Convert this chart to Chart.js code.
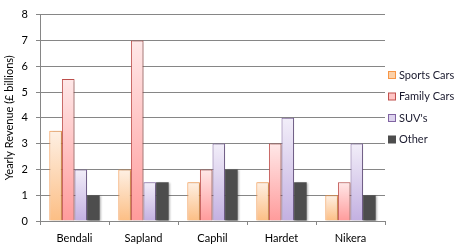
<!DOCTYPE html>
<html><head><meta charset="utf-8">
<script src="https://cdn.jsdelivr.net/npm/chart.js@4/dist/chart.umd.min.js"></script>
<style>html,body{margin:0;padding:0;background:#fff}#wrap{width:459px;height:249px}</style>
</head><body><div id="wrap"><canvas id="c" width="459" height="249"></canvas></div>
<script>
const categories = ["Bendali", "Sapland", "Caphil", "Hardet", "Nikera"];
const sportsCars = [3.5, 2, 1.5, 1.5, 1];
const familyCars = [5.5, 7, 2, 3, 1.5];
const suvs = [2, 1.5, 3, 4, 3];
const other = [1, 1.5, 2, 1.5, 1];
const seriesNames = ["Sports Cars", "Family Cars", "SUV's", "Other"];
const yTicks = [0, 1, 2, 3, 4, 5, 6, 7, 8];

const FONT = "Lato";
function grad(top, bottom) {
  return function(ctx) {
    const chart = ctx.chart;
    if (!chart.chartArea || ctx.type !== 'data') return bottom;
    const y = chart.scales.y;
    const v = ctx.parsed ? ctx.parsed.y : ctx.raw;
    const y0 = y.getPixelForValue(v), y1 = y.getPixelForValue(0);
    if (!isFinite(y0) || !isFinite(y1) || y0 === y1) return bottom;
    const g = chart.ctx.createLinearGradient(0, y0, 0, y1);
    g.addColorStop(0, top); g.addColorStop(1, bottom);
    return g;
  };
}
const legendSwatch = [
  {fill: "#fbd0a8", stroke: "#f79646"},
  {fill: "#ffc4c4", stroke: "#c0504d"},
  {fill: "#ddd3ee", stroke: "#8064a2"},
  {fill: "#4d4d4d", stroke: "#4d4d4d"}
];
const shadowPlugin = {
  id: 'shadow',
  beforeDatasetsDraw(chart) { const c = chart.ctx; c.save(); c.shadowColor = 'rgba(0,0,0,0.28)'; c.shadowBlur = 2; c.shadowOffsetX = 1.5; c.shadowOffsetY = 0.5; },
  afterDatasetsDraw(chart) { chart.ctx.restore(); }
};
const legendPlugin = {
  id: 'customLegend',
  afterDraw(chart) {
    const c = chart.ctx; c.save();
    const x = 388, ys = [75, 96.5, 118, 139.5];
    c.font = "11px " + FONT; c.textBaseline = 'middle'; c.textAlign = 'left';
    seriesNames.forEach((n, i) => {
      const s = legendSwatch[i];
      c.fillStyle = s.fill; c.fillRect(x + 0.5, ys[i] - 3.5, 7, 7);
      c.strokeStyle = s.stroke; c.lineWidth = 1; c.strokeRect(x + 0.5, ys[i] - 3.5, 7, 7);
      c.fillStyle = "#1a1a2e"; c.fillText(n, x + 11, ys[i]);
    });
    c.restore();
  }
};
new Chart(document.getElementById('c'), {
  type: 'bar',
  data: {
    labels: categories,
    datasets: [
      {label: seriesNames[0], data: sportsCars, backgroundColor: grad("#fef0e4", "#fcbe84"), borderColor: "#f79646", borderWidth: 1},
      {label: seriesNames[1], data: familyCars, backgroundColor: grad("#ffe8e8", "#ff9b9b"), borderColor: "#c0504d", borderWidth: 1},
      {label: seriesNames[2], data: suvs, backgroundColor: grad("#f2eef9", "#c3b0e1"), borderColor: "#8064a2", borderWidth: 1},
      {label: seriesNames[3], data: other, backgroundColor: "#4d4d4d", borderColor: "#4d4d4d", borderWidth: 0}
    ]
  },
  options: {
    responsive: false, animation: false,
    layout: {padding: {top: 10, right: 74, left: 0, bottom: 0}},
    datasets: {bar: {categoryPercentage: 0.73, barPercentage: 1}},
    plugins: {legend: {display: false}, tooltip: {enabled: false}},
    scales: {
      x: {
        grid: {drawOnChartArea: false, drawTicks: true, tickLength: 4, color: "#868686"},
        border: {color: "#868686"},
        ticks: {color: "#000", font: {family: FONT, size: 11}, padding: 7},
        afterFit(s) { s.height = 28; }
      },
      y: {
        min: 0, max: 8,
        afterBuildTicks(s) { s.ticks = yTicks.map(v => ({value: v})); },
        grid: {color: "#868686", tickLength: 4},
        border: {color: "#868686"},
        ticks: {color: "#000", font: {family: FONT, size: 11}, padding: 8},
        title: {display: true, text: "Yearly Revenue (£ billions)", color: "#000", font: {family: FONT, size: 11}, padding: {top: 3, bottom: 0}},
        afterFit(s) { s.width = 40; }
      }
    }
  },
  plugins: [shadowPlugin, legendPlugin]
});
</script></body></html>
